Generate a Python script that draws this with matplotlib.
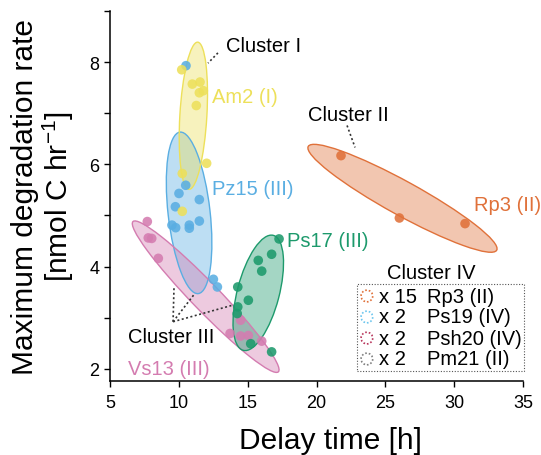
import numpy as np
import matplotlib
matplotlib.use("Agg")
import matplotlib.pyplot as plt
from matplotlib.patches import Ellipse, Rectangle
from matplotlib.ticker import MultipleLocator

plt.rcParams['font.family'] = ['Liberation Sans', 'DejaVu Sans']
plt.rcParams['mathtext.fontset'] = 'custom'
plt.rcParams['mathtext.rm'] = 'Liberation Sans'
plt.rcParams['mathtext.it'] = 'Liberation Sans'

# data (delay time [h], max degradation rate)
am2_x = [10.21, 10.98, 11.54, 11.49, 11.78, 11.27, 12.02, 10.25, 10.25]
am2_y = [7.85, 7.57, 7.61, 7.40, 7.44, 7.15, 6.02, 5.82, 5.08]

pz15_x = [10.52, 10.50, 10.01, 11.49, 9.75, 9.50, 9.77, 10.76, 10.76, 11.49, 12.51, 12.80]
pz15_y = [7.93, 5.59, 5.43, 5.31, 5.17, 4.81, 4.76, 4.81, 4.75, 4.89, 3.75, 3.60]

vs13_x = [7.71, 7.78, 8.03, 8.51, 14.49, 13.72, 14.49, 15.05, 16.02]
vs13_y = [4.88, 4.56, 4.55, 4.16, 2.95, 2.69, 2.64, 2.65, 2.54]

ps17_x = [17.28, 16.74, 15.77, 16.02, 14.28, 15.05, 14.28, 14.24, 15.22, 16.74]
ps17_y = [4.54, 4.24, 4.12, 3.91, 3.60, 3.34, 3.21, 3.08, 2.49, 2.33]

rp3_x = [21.78, 26.02, 30.79]
rp3_y = [6.17, 4.95, 4.84]

# cluster ellipses: major axis end points (data) and minor axis width (px)
ell_am2 = [(11.37, 8.39), (10.74, 5.51), 27]
ell_pz15 = [(10.08, 6.63), (11.41, 3.47), 42]
ell_vs13 = [(6.67, 4.88), (17.23, 1.94), 28]
ell_ps17 = [(16.86, 4.61), (14.68, 2.36), 42]
ell_rp3 = [(19.40, 6.35), (33.09, 4.32), 34]

legend_counts = ["x 15", "x 2", "x 2", "x 2"]
legend_names = ["Rp3 (II)", "Ps19 (IV)", "Psh20 (IV)", "Pm21 (II)"]
legend_colors = ["#e0713a", "#6cc6ee", "#b8365c", "#808080"]

c_am2 = "#ede05a"
c_pz15 = "#5aaee2"
c_vs13 = "#d47cb0"
c_ps17 = "#1d9a6c"
c_rp3 = "#e0713a"

fig = plt.figure(figsize=(5.41, 4.56), dpi=100)
ax = fig.add_axes([110/541, 1-382/456, 413/541, 370/456])
ax.set_xlim(5, 35)
ax.set_ylim(1.76, 9.0)
fig.canvas.draw()


def add_ellipse(spec, color):
    p1 = ax.transData.transform(spec[0])
    p2 = ax.transData.transform(spec[1])
    c = (p1 + p2) / 2
    d = p2 - p1
    length = np.hypot(d[0], d[1])
    ang = np.degrees(np.arctan2(d[1], d[0]))
    e = Ellipse(c, length, spec[2], angle=ang, transform=None,
                facecolor=color, alpha=0.4, edgecolor='none', zorder=1)
    ax.add_artist(e)
    e2 = Ellipse(c, length, spec[2], angle=ang, transform=None,
                 facecolor='none', edgecolor=color, lw=1.0, zorder=1.5)
    ax.add_artist(e2)


add_ellipse(ell_rp3, c_rp3)
add_ellipse(ell_pz15, c_pz15)
add_ellipse(ell_vs13, c_vs13)
add_ellipse(ell_ps17, c_ps17)
add_ellipse(ell_am2, c_am2)

for xs, ys, col in [(rp3_x, rp3_y, c_rp3), (vs13_x, vs13_y, c_vs13),
                    (pz15_x, pz15_y, c_pz15), (ps17_x, ps17_y, c_ps17),
                    (am2_x, am2_y, c_am2)]:
    ax.scatter(xs, ys, s=48, color=col, alpha=0.88, edgecolors='none', zorder=3)

fs = 14.5
ax.text(12.41, 7.33, "Am2 (I)", color=c_am2, fontsize=fs, va='center')
ax.text(12.41, 5.53, "Pz15 (III)", color=c_pz15, fontsize=fs, va='center')
ax.text(17.86, 4.51, "Ps17 (III)", color=c_ps17, fontsize=fs, va='center')
ax.text(31.44, 5.22, "Rp3 (II)", color=c_rp3, fontsize=fs, va='center')
ax.text(6.31, 2.0, "Vs13 (III)", color=c_vs13, fontsize=fs, va='center')

ax.text(13.43, 8.33, "Cluster I", color='k', fontsize=fs, va='center')
ax.text(19.38, 6.98, "Cluster II", color='k', fontsize=fs, va='center')
ax.text(6.31, 2.63, "Cluster III", color='k', fontsize=fs, va='center')

dot = dict(color='#333333', lw=1.2, ls=(0, (1.2, 1.5)), zorder=4)
ax.plot([12.84, 12.12], [8.18, 7.98], **dot)
ax.plot([22.22, 22.80], [6.76, 6.33], **dot)
hub = (9.58, 2.92)
for tx, ty in [(9.65, 3.59), (11.10, 3.45), (13.86, 3.24)]:
    ax.plot([hub[0], tx], [hub[1], ty], **dot)

# Cluster IV legend box
ax.text(0.777, 0.292, "Cluster IV", transform=ax.transAxes, fontsize=fs,
        ha='center', va='center')
ax.add_patch(Rectangle((0.598, 0.027), 0.404, 0.235, transform=ax.transAxes,
                       fill=False, ec='#555555', lw=0.8, ls=(0, (1, 1.5)),
                       clip_on=False, zorder=5))
rows = [0.2297, 0.173, 0.116, 0.0595]
for yy, cnt, nm, col in zip(rows, legend_counts, legend_names, legend_colors):
    ax.scatter([0.622], [yy], s=70, transform=ax.transAxes, facecolors='none',
               edgecolors=col, linewidths=1.2, linestyle=(0, (1, 1.2)),
               clip_on=False, zorder=5)
    ax.text(0.651, yy, cnt, transform=ax.transAxes, fontsize=fs, va='center')
    ax.text(0.7676, yy, nm, transform=ax.transAxes, fontsize=fs, va='center')

ax.spines['top'].set_visible(False)
ax.spines['right'].set_visible(False)
for s in ['left', 'bottom']:
    ax.spines[s].set_linewidth(1.1)
ax.set_xticks(np.arange(5, 36, 5))
ax.set_yticks([2, 4, 6, 8])
ax.yaxis.set_minor_locator(MultipleLocator(1))
ax.tick_params(which='both', direction='out', length=4, width=1.0,
               labelsize=13, colors='k')
ax.tick_params(axis='x', pad=5)

ax.set_xlabel("Delay time [h]", fontsize=21.5)
ax.xaxis.set_label_coords(0.533, -0.122)
ax.set_ylabel("Maximum degradation rate\n[nmol C hr$^{-1}$]", fontsize=21.5,
              labelpad=10, linespacing=1.05)

fig.savefig("out.png", dpi=100)
